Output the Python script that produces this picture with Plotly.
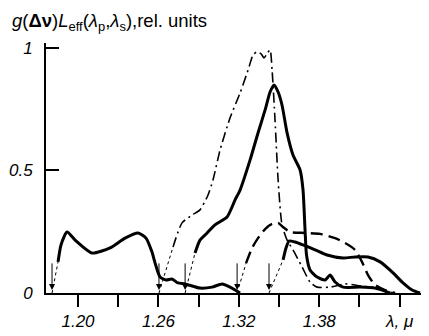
import plotly.graph_objects as go

# ---- data ----
# Solid curve A (pump at 1.18 um)
a_x = [1.1851, 1.1873, 1.1918, 1.1978, 1.2104, 1.2239, 1.2351, 1.2448, 1.2507, 1.2552,
       1.2575, 1.2612, 1.2657, 1.2701, 1.2746, 1.2799, 1.2910, 1.3000, 1.3075, 1.3134, 1.3209]
a_y = [0.127, 0.196, 0.249, 0.216, 0.163, 0.184, 0.224, 0.245, 0.224, 0.167,
       0.122, 0.065, 0.053, 0.057, 0.041, 0.037, 0.020, 0.024, 0.037, 0.024, 0.0]
a_dot_x = [1.1806, 1.1851]
a_dot_y = [0.0, 0.127]

# Dash-dot curve B (arrow at 1.26 um)
b_x = [1.2709, 1.2776, 1.2851, 1.2910, 1.2970, 1.3007, 1.3060, 1.3134, 1.3209, 1.3269,
       1.3306, 1.3336, 1.3366, 1.3388, 1.3410, 1.3433, 1.3448, 1.3470, 1.3493, 1.3522,
       1.3560, 1.3604, 1.3672, 1.3731, 1.3784, 1.3881, 1.3993, 1.4104, 1.4231, 1.4351]
b_y = [0.188, 0.286, 0.318, 0.339, 0.400, 0.461, 0.584, 0.714, 0.816, 0.910,
       0.971, 0.984, 0.976, 0.959, 0.976, 0.992, 0.910, 0.706, 0.461, 0.278,
       0.216, 0.176, 0.106, 0.045, 0.024, 0.024, 0.037, 0.029, 0.020, 0.0]
b_dot_x = [1.2604, 1.2709]
b_dot_y = [0.0, 0.188]

# Solid curve C (arrow at 1.28 um)
c_x = [1.2873, 1.2910, 1.2963, 1.3022, 1.3112, 1.3172, 1.3209, 1.3284, 1.3343, 1.3396,
       1.3433, 1.3463, 1.3493, 1.3522, 1.3560, 1.3604, 1.3657, 1.3679, 1.3694, 1.3705,
       1.3731, 1.3784, 1.3843, 1.3881, 1.3918, 1.3978, 1.4104, 1.4216, 1.4328]
c_y = [0.163, 0.216, 0.245, 0.278, 0.310, 0.380, 0.420, 0.543, 0.653, 0.747,
       0.820, 0.849, 0.820, 0.767, 0.653, 0.563, 0.502, 0.420, 0.257, 0.155,
       0.094, 0.065, 0.053, 0.073, 0.045, 0.024, 0.024, 0.020, 0.0]
c_dot_x = [1.2799, 1.2873]
c_dot_y = [0.0, 0.163]

# Dashed curve D (arrow at 1.32 um)
d_x = [1.3254, 1.3299, 1.3343, 1.3396, 1.3448, 1.3493, 1.3530, 1.3582, 1.3694, 1.3806,
       1.3918, 1.3993, 1.4067, 1.4119, 1.4164, 1.4216, 1.4291, 1.4366]
d_y = [0.122, 0.184, 0.224, 0.261, 0.282, 0.286, 0.269, 0.249, 0.245, 0.241,
       0.224, 0.204, 0.176, 0.127, 0.073, 0.033, 0.012, 0.0]
d_dot_x = [1.3187, 1.3254]
d_dot_y = [0.0, 0.122]

# Solid curve E (arrow at 1.345 um)
e_x = [1.3530, 1.3552, 1.3575, 1.3619, 1.3679, 1.3769, 1.3858, 1.3978, 1.4067, 1.4164,
       1.4254, 1.4343, 1.4425, 1.4493, 1.4552]
e_y = [0.135, 0.184, 0.212, 0.208, 0.196, 0.176, 0.155, 0.143, 0.147, 0.147,
       0.127, 0.086, 0.041, 0.012, 0.0]
e_dot_x = [1.3425, 1.3530]
e_dot_y = [0.0, 0.135]

# pump arrows
arrow_x = [1.1806, 1.2604, 1.2799, 1.3187, 1.3425]

x_tickvals = [1.20, 1.26, 1.32, 1.38, 1.44]
x_ticktext = ["1.20", "1.26", "1.32", "1.38", "λ, μ"]
x_minor_tickvals = [1.23, 1.29, 1.35, 1.41]
y_tickvals = [0, 0.5, 1]
y_ticktext = ["0", "0.5", "1"]

fig = go.Figure()

def add_curve(x, y, width, dash):
    fig.add_trace(go.Scatter(x=x, y=y, mode="lines",
                             line=dict(color="black", width=width, dash=dash,
                                       shape="spline", smoothing=0.6),
                             showlegend=False, hoverinfo="skip"))

def add_dot(x, y):
    fig.add_trace(go.Scatter(x=x, y=y, mode="lines",
                             line=dict(color="black", width=1, dash="dot"),
                             showlegend=False, hoverinfo="skip"))

add_dot(a_dot_x, a_dot_y)
add_dot(b_dot_x, b_dot_y)
add_dot(c_dot_x, c_dot_y)
add_dot(d_dot_x, d_dot_y)
add_dot(e_dot_x, e_dot_y)

add_curve(a_x, a_y, 3, "solid")
add_curve(b_x, b_y, 1.6, "10px,4px,2px,4px")
add_curve(c_x, c_y, 3, "solid")
add_curve(d_x, d_y, 2.4, "12px,6px")
add_curve(e_x, e_y, 3, "solid")

for ax_ in arrow_x:
    fig.add_annotation(x=ax_, y=0.012, ax=ax_, ay=0.127, xref="x", yref="y",
                       axref="x", ayref="y", text="", showarrow=True,
                       arrowhead=2, arrowsize=1.2, arrowwidth=1, arrowcolor="black")

fig.add_annotation(
    text="<i>g</i>(<b>Δν</b>)<i>L</i><sub>eff</sub>(<i>λ</i><sub>p</sub>,<i>λ</i><sub>s</sub>),rel. units",
    xref="paper", yref="paper", x=-0.095, y=1.085, xanchor="left", yanchor="middle",
    showarrow=False, font=dict(family="Liberation Sans", size=18.5, color="black"))

tick_font = dict(family="Liberation Sans", size=17, color="black", style="italic")

# page body has an 8px default margin; figure is sized to fit the 429x336 window
fig.update_layout(
    width=421, height=328,
    margin=dict(l=38, r=2, t=35, b=43, autoexpand=False),
    paper_bgcolor="white", plot_bgcolor="white",
    xaxis=dict(range=[1.1761, 1.4604], showgrid=False, zeroline=False,
               automargin=False,
               showline=True, linecolor="black", linewidth=2,
               tickvals=x_tickvals, ticktext=x_ticktext,
               ticks="outside", ticklen=12, tickwidth=1.5, tickcolor="black",
               ticklabelstandoff=0,
               minor=dict(tickvals=x_minor_tickvals, ticks="outside", ticklen=12,
                          tickwidth=1.5, tickcolor="black", showgrid=False),
               tickfont=tick_font),
    yaxis=dict(range=[0, 1.02], showgrid=False, zeroline=False,
               automargin=False,
               showline=True, linecolor="black", linewidth=2,
               tickvals=y_tickvals, ticktext=y_ticktext,
               ticks="inside", ticklen=13, tickwidth=1.5, tickcolor="black",
               ticklabelstandoff=8,
               tickfont=tick_font),
)

fig.write_html("out.html")
